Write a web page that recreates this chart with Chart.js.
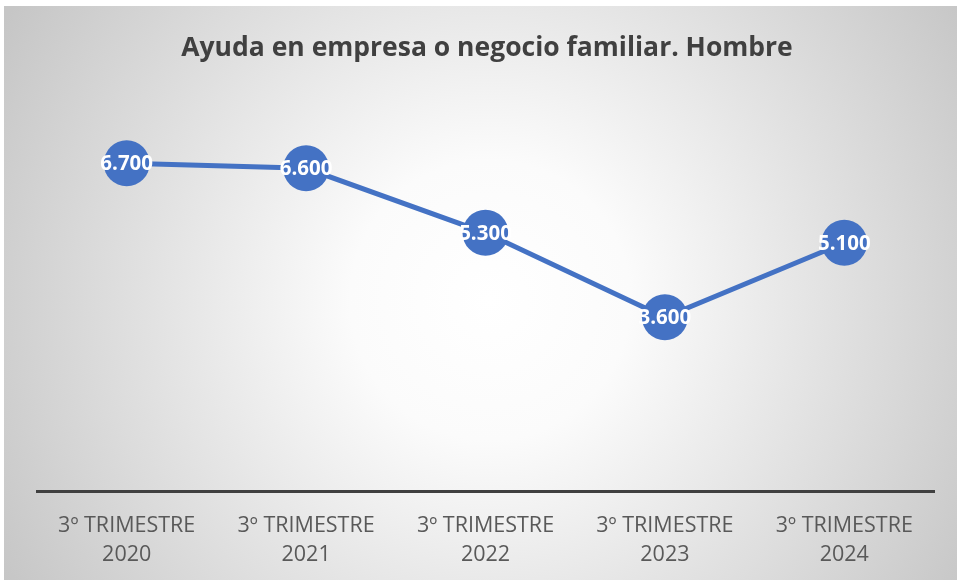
<!DOCTYPE html>
<html>
<head>
<meta charset="utf-8">
<script src="https://cdn.jsdelivr.net/npm/chart.js@4/dist/chart.umd.min.js"></script>
<style>
html,body{margin:0;padding:0;background:#fff;}
#wrap{position:relative;width:957px;height:580px;}
</style>
</head>
<body>
<div id="wrap"><canvas id="c" width="957" height="580"></canvas></div>
<script>
const chartTitle = "Ayuda en empresa o negocio familiar. Hombre";
const categories = [
  ["3º TRIMESTRE", "2020"],
  ["3º TRIMESTRE", "2021"],
  ["3º TRIMESTRE", "2022"],
  ["3º TRIMESTRE", "2023"],
  ["3º TRIMESTRE", "2024"]
];
const values = [6700, 6600, 5300, 3600, 5100];

function fmt(v){
  return String(Math.round(v)).replace(/\B(?=(\d{3})+(?!\d))/g, ".");
}

const bgPlugin = {
  id: 'bg',
  beforeDraw(chart){
    const ctx = chart.ctx;
    const w = chart.width, h = chart.height;
    ctx.save();
    ctx.fillStyle = '#ffffff';
    ctx.fillRect(0,0,w,h);
    const g = ctx.createRadialGradient(490, 300, 0, 490, 300, 560);
    g.addColorStop(0, '#ffffff');
    g.addColorStop(0.25, '#fbfbfb');
    g.addColorStop(1, '#c6c6c6');
    ctx.fillStyle = g;
    ctx.fillRect(4,6,w-4,h-6);
    ctx.restore();
  }
};

const labelPlugin = {
  id: 'valueLabels',
  afterDatasetsDraw(chart){
    const ctx = chart.ctx;
    ctx.save();
    ctx.font = 'bold 20.5px "Open Sans", sans-serif';
    ctx.fillStyle = '#ffffff';
    ctx.textAlign = 'center';
    ctx.textBaseline = 'middle';
    chart.data.datasets.forEach((ds, i) => {
      const meta = chart.getDatasetMeta(i);
      meta.data.forEach((pt, j) => {
        ctx.fillText(fmt(ds.data[j]), pt.x, pt.y + 1);
      });
    });
    ctx.restore();
  }
};

new Chart(document.getElementById('c'), {
  type: 'line',
  data: {
    labels: categories,
    datasets: [{
      data: values,
      borderColor: '#4472C4',
      borderWidth: 5,
      pointRadius: 23,
      pointHoverRadius: 23,
      pointBackgroundColor: '#4472C4',
      pointBorderWidth: 0,
      tension: 0,
      clip: false
    }]
  },
  options: {
    responsive: false,
    animation: false,
    events: [],
    layout: { padding: { left: 37, right: 20, top: 10, bottom: 0 } },
    plugins: {
      legend: { display: false },
      tooltip: { enabled: false },
      title: {
        display: true,
        text: chartTitle,
        color: '#404040',
        font: { family: '"Open Sans", sans-serif', size: 26.5, weight: 'bold' },
        padding: { top: 23, bottom: 34 }
      }
    },
    scales: {
      x: {
        offset: true,
        grid: { display: false, drawTicks: false },
        border: { display: true, color: '#404040', width: 3 },
        ticks: {
          color: '#595959',
          font: { family: '"Open Sans", sans-serif', size: 21.5, lineHeight: 1.35 },
          padding: 20,
          maxRotation: 0,
          autoSkip: false
        },
        afterFit(scale){ scale.height = 89; }
      },
      y: {
        display: false,
        min: 100,
        max: 8000
      }
    }
  },
  plugins: [bgPlugin, labelPlugin]
});
</script>
</body>
</html>
